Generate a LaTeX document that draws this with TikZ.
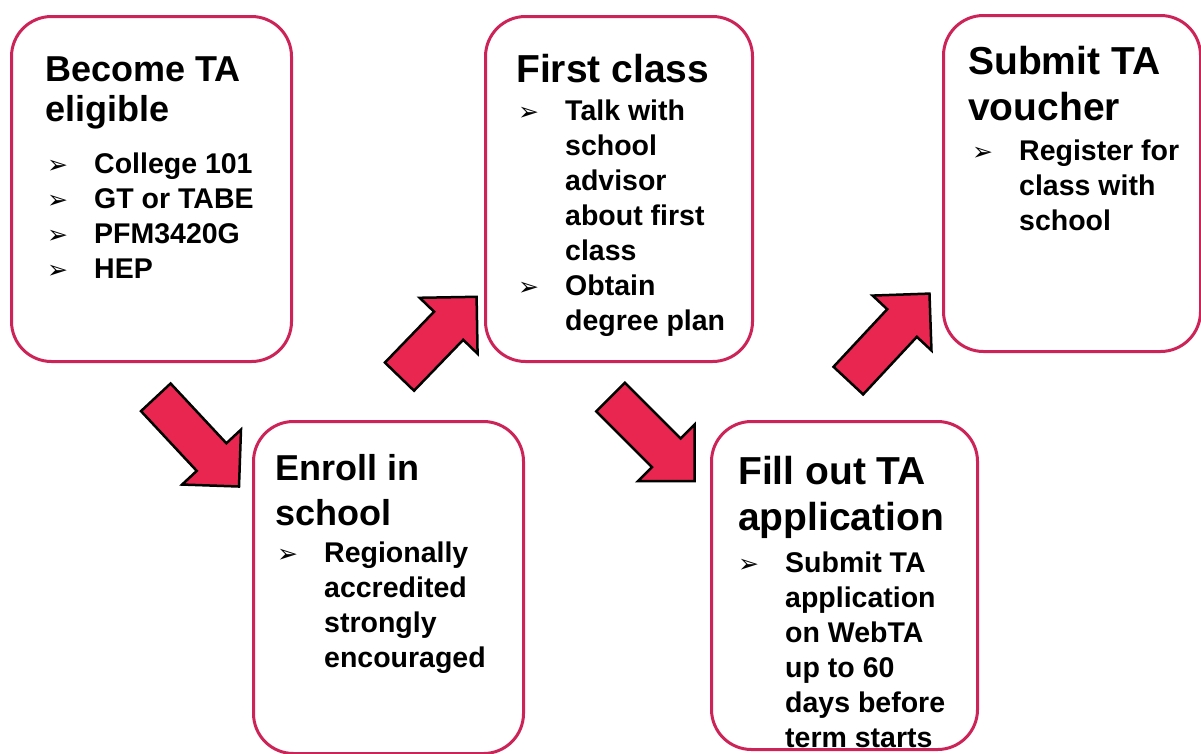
\documentclass[tikz,border=0pt]{standalone}
\usepackage{fontspec}
\setmainfont{Liberation Sans}
\newfontfamily\dejavu{DejaVu Sans}
\usetikzlibrary{shapes.arrows}
\definecolor{rim}{RGB}{204,36,88}
\definecolor{fatred}{RGB}{232,38,80}
\newcommand{\itm}{\makebox[47pt][l]{\dejavu\fontsize{25}{25}\selectfont ➢}}
\newcommand{\cnt}{\hspace*{47pt}}
\tikzset{
  rbox/.style={draw=rim, line width=3pt, rounded corners=40pt, fill=white, anchor=north west, inner sep=0pt},
  ttl/.style={anchor=north west, inner sep=0pt, align=left, font=\fontsize{39}{46}\selectfont\bfseries},
  lst/.style={anchor=north west, inner sep=0pt, align=left, font=\fontsize{28.5}{35}\selectfont\bfseries},
  fat/.style={single arrow, draw=black, line width=2.5pt, fill=fatred, inner xsep=0pt, inner ysep=19pt, single arrow head extend=20pt}
}

\begin{document}
\begin{tikzpicture}[x=1pt, y=-1pt]
    \useasboundingbox (0,0) rectangle (1201,753);
    \node[rbox, minimum width=280pt, minimum height=345pt](become)at(10, 15){};
    \node[rbox, minimum width=270pt, minimum height=332pt](enroll)at(252, 420){};
    \node[rbox, minimum width=267pt, minimum height=345pt](first)at(484, 15){};
    \node[rbox, minimum width=266pt, minimum height=328pt](fill)at(710, 420){};
    \node[rbox, minimum width=257pt, minimum height=336pt](submit)at(942, 14){};
    \node[ttl, font=\fontsize{36}{40}\selectfont\bfseries](becomet)at(45, 57){Become TA\\eligible};
    \node[lst](becomel)at(47, 153){\itm College 101\\\itm GT or TABE\\\itm PFM3420G\\\itm HEP};
    \node[ttl, font=\fontsize{36}{45}\selectfont\bfseries](enrollt)at(275, 454){Enroll in\\school};
    \node[lst](enrolll)at(277, 542){\itm Regionally\\\cnt accredited\\\cnt strongly\\\cnt encouraged};
    \node[ttl](firstt)at(516, 54){First class};
    \node[lst](firstl)at(518, 100){\itm Talk with\\\cnt school\\\cnt advisor\\\cnt about first\\\cnt class\\\itm Obtain\\\cnt degree plan};
    \node[ttl](fillt)at(738, 456){Fill out TA\\application};
    \node[lst](filll)at(738, 552){\itm Submit TA\\\cnt application\\\cnt on WebTA\\\cnt up to 60\\\cnt days before\\\cnt term starts};
    \node[ttl](submitt)at(968, 46){Submit TA\\voucher};
    \node[lst](submitl)at(972, 140){\itm Register for\\\cnt class with\\\cnt school};
    \node[fat, minimum height=122pt, rotate=-47](a1)at(190.5, 434.5){};
    \node[fat, minimum height=111pt, rotate=46](a2)at(431, 344){};
    \node[fat, minimum height=119pt, rotate=-45](a3)at(645.5, 432){};
    \node[fat, minimum height=119pt, rotate=47](a4)at(882, 344.5){};
\end{tikzpicture}
\end{document}
